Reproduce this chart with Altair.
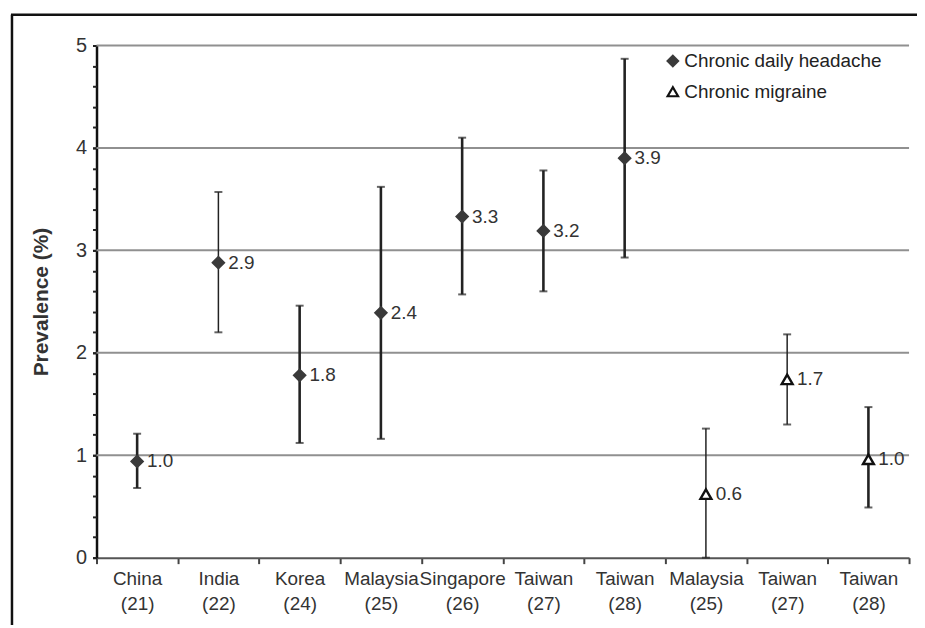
import altair as alt
import pandas as pd

# ---- data ----
countries = ["China", "India", "Korea", "Malaysia", "Singapore", "Taiwan", "Taiwan", "Malaysia", "Taiwan", "Taiwan"]
refs = ["(21)", "(22)", "(24)", "(25)", "(26)", "(27)", "(28)", "(25)", "(27)", "(28)"]
series = ["Chronic daily headache"] * 7 + ["Chronic migraine"] * 3
prevalence = [0.94, 2.88, 1.78, 2.39, 3.33, 3.19, 3.90, 0.62, 1.74, 0.96]
ci_low = [0.68, 2.20, 1.12, 1.16, 2.57, 2.60, 2.93, 0.00, 1.30, 0.49]
ci_high = [1.21, 3.57, 2.46, 3.62, 4.10, 3.78, 4.87, 1.26, 2.18, 1.47]
value_labels = ["1.0", "2.9", "1.8", "2.4", "3.3", "3.2", "3.9", "0.6", "1.7", "1.0"]
y_major = [0, 1, 2, 3, 4, 5]
y_minor = [0, 0.2, 0.4, 0.6, 0.8, 1, 1.2, 1.4, 1.6, 1.8, 2, 2.2, 2.4, 2.6, 2.8, 3,
           3.2, 3.4, 3.6, 3.8, 4, 4.2, 4.4, 4.6, 4.8, 5]
y_grid = [1, 2, 3, 4, 5]
series_names = ["Chronic daily headache", "Chronic migraine"]

keys = [f"{i}|{c}|{r}" for i, (c, r) in enumerate(zip(countries, refs))]
df = pd.DataFrame({
    "idx": list(range(len(keys))),
    "key": keys,
    "series": series,
    "prev": prevalence,
    "lo": ci_low,
    "hi": ci_high,
    "lab": value_labels,
})

FONT = "Liberation Sans"
DARK = "#222222"

x_enc = alt.X(
    "key:N",
    sort=keys,
    scale=alt.Scale(paddingInner=0, paddingOuter=0),
    axis=alt.Axis(
        title=None,
        labelExpr="slice(split(datum.label, '|'), 1)",
        labelAngle=0,
        labelFont=FONT,
        labelFontSize=19,
        labelColor="#333333",
        labelLineHeight=25,
        labelPadding=6,
        labelOverlap=False,
        labelLimit=0,
        tickBand="extent",
        tickSize=6,
        tickWidth=2,
        tickColor="#444444",
        domainColor="#555555",
        domainWidth=2,
        grid=False,
    ),
)

y_scale = alt.Scale(domain=[0, 5], nice=False, zero=True)
y_axis_major = alt.Axis(
    title="Prevalence (%)",
    titleFont=FONT,
    titleFontSize=21,
    titleFontWeight="bold",
    titleColor="#333333",
    titlePadding=24,
    values=y_major,
    format="d",
    labelOverlap=False,
    labelFont=FONT,
    labelFontSize=20,
    labelColor="#333333",
    labelPadding=6,
    tickSize=4,
    tickWidth=2,
    tickColor="#222222",
    domainColor="#111111",
    domainWidth=2.5,
    grid=False,
    orient="left",
)
y_axis_minor = alt.Axis(
    title=None,
    values=y_minor,
    labels=False,
    domain=False,
    grid=False,
    tickSize=4,
    tickWidth=2,
    tickColor="#222222",
    orient="left",
)

base = alt.Chart(df)

grid = alt.Chart(pd.DataFrame({"g": y_grid})).mark_rule(color="#909090", strokeWidth=2).encode(
    y=alt.Y("g:Q", scale=y_scale, axis=y_axis_major)
)

thin = "indexof([1, 7, 8], datum.idx) >= 0"

bars = base.mark_rule(color=DARK).encode(
    x=x_enc,
    y=alt.Y("lo:Q", scale=y_scale, axis=y_axis_minor),
    y2="hi:Q",
    strokeWidth=alt.condition(thin, alt.value(1.5), alt.value(2.6)),
)

cap_lo = base.mark_tick(color=DARK, size=8, thickness=2).encode(
    x=alt.X("key:N", sort=keys), y=alt.Y("lo:Q", scale=y_scale, axis=None)
)
cap_hi = base.mark_tick(color=DARK, size=8, thickness=2).encode(
    x=alt.X("key:N", sort=keys), y=alt.Y("hi:Q", scale=y_scale, axis=None)
)

legend = alt.Legend(
    title=None,
    orient="none",
    legendX=570,
    legendY=6,
    labelFont=FONT,
    labelFontSize=19,
    labelColor=DARK,
    labelLimit=0,
    symbolSize=110,
    symbolStrokeWidth=2.2,
    rowPadding=11,
    labelOffset=2,
)

points = base.mark_point(opacity=1, strokeWidth=2.4, size=120).encode(
    x=alt.X("key:N", sort=keys),
    y=alt.Y("prev:Q", scale=y_scale, axis=None),
    shape=alt.Shape("series:N", scale=alt.Scale(domain=series_names, range=["diamond", "triangle-up"]),
                    legend=legend),
    fill=alt.Fill("series:N", scale=alt.Scale(domain=series_names, range=["#3a3a3a", "#ffffff"]),
                  legend=legend),
    stroke=alt.Stroke("series:N", scale=alt.Scale(domain=series_names, range=["#3a3a3a", "#111111"]),
                      legend=legend),
)

texts = base.mark_text(align="left", baseline="middle", dx=10, font=FONT, fontSize=19, color="#333333").encode(
    x=alt.X("key:N", sort=keys),
    y=alt.Y("prev:Q", scale=y_scale, axis=None),
    text="lab:N",
)

frame_data = alt.Chart(pd.DataFrame({"a": [0]}))
frame_left = frame_data.mark_rule(color="#111111", strokeWidth=2.5).encode(
    x=alt.value(-85), y=alt.value(-31), y2=alt.value(590)
)
frame_top = frame_data.mark_rule(color="#111111", strokeWidth=2.5).encode(
    x=alt.value(-86), x2=alt.value(830), y=alt.value(-31)
)

chart = alt.layer(grid, bars, cap_lo, cap_hi, points, texts, frame_left, frame_top).resolve_axis(
    y="independent"
).properties(
    width=817,
    height=515,
    padding={"left": 89, "top": 36, "right": 8, "bottom": 66},
    autosize=alt.AutoSizeParams(type="none"),
    background="white",
).configure_view(stroke=None)

chart.save("out.html", embed_options={"renderer": "svg", "actions": False})
